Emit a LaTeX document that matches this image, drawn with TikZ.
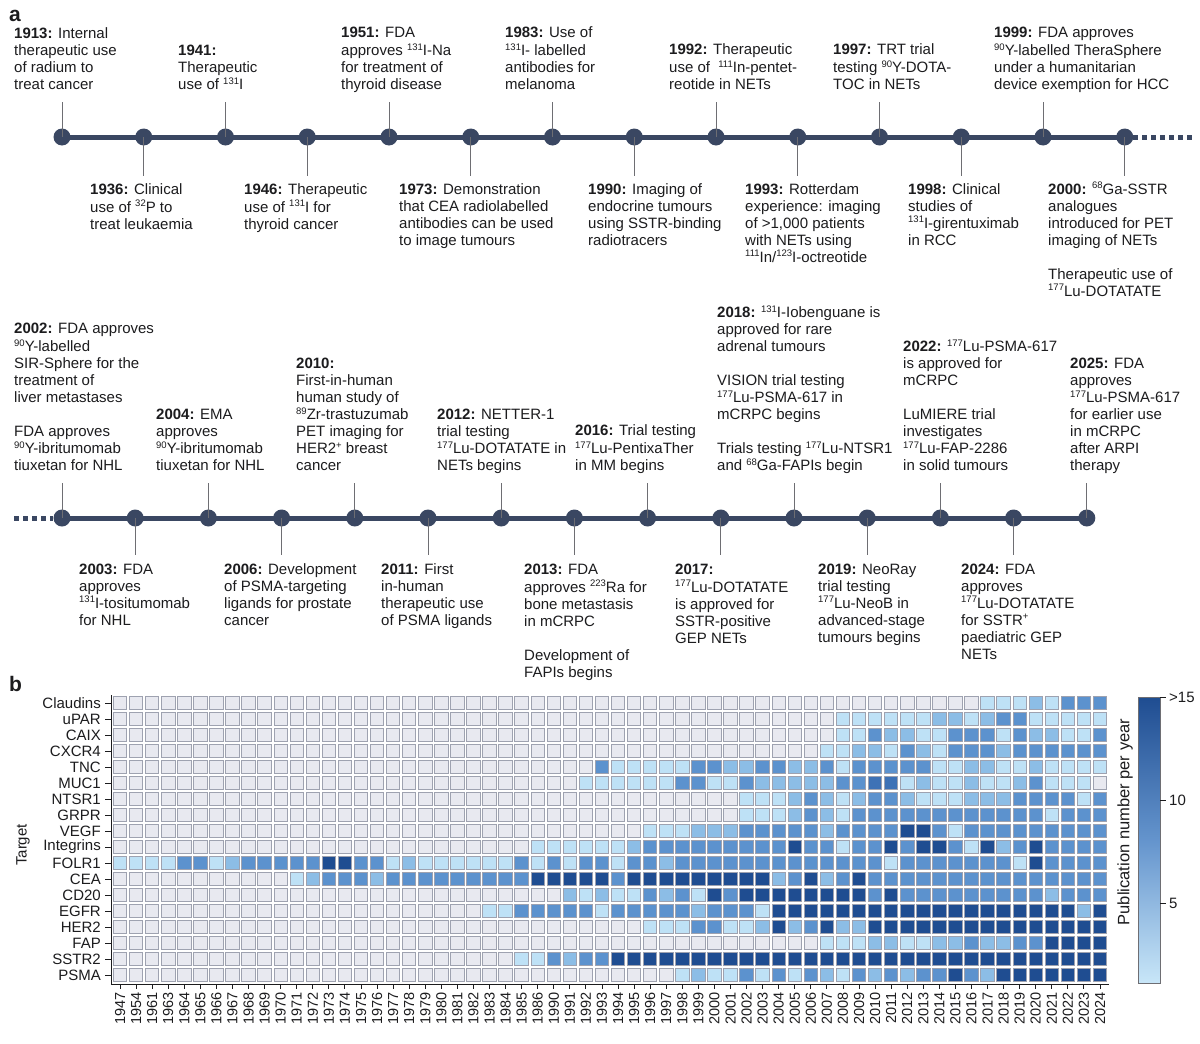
\documentclass[tikz,border=0pt]{standalone}
\usepackage{fontspec}
\setmainfont{Liberation Sans}
\newcommand\iso[1]{\raisebox{0.36em}{\fontsize{9.5}{9.5}\selectfont #1}}
\definecolor{tlc}{RGB}{58,71,98}
\definecolor{txt}{RGB}{28,28,30}
\definecolor{tickc}{RGB}{110,110,115}
\definecolor{hm0}{RGB}{232,233,240}
\definecolor{hm1}{RGB}{190,225,246}
\definecolor{hm2}{RGB}{140,189,230}
\definecolor{hm3}{RGB}{92,146,206}
\definecolor{hm4}{RGB}{62,114,182}
\definecolor{hm5}{RGB}{31,77,145}
\definecolor{cellb}{RGB}{158,162,176}
\definecolor{cbl}{RGB}{200,230,248}
\definecolor{cbm}{RGB}{100,148,205}
\def\hmw{16.065}
\newcount\hmcol
\def\hmrow#1#2{\global\hmcol=0 \def\hmr{#1}\hmloop#2\relax}
\def\hmloop#1{\ifx#1\relax\else\hmcell{#1}\global\advance\hmcol by 1 \expandafter\hmloop\fi}
\def\hmcell#1{\path[hmc, fill=hm#1] ({112+\the\hmcol*\hmw+1.3},{695+\hmr*16+1.3}) rectangle ++({\hmw-2.6},13.4);}
\begin{document}
\begin{tikzpicture}[x=1pt,y=-1pt,
  lab/.style={font=\fontsize{15}{17}\selectfont, align=left, inner sep=0pt, text=txt},
  up/.style={lab, anchor=south west},
  dn/.style={lab, anchor=north west},
  dot/.style={circle, fill=tlc, inner sep=0pt, minimum size=17pt},
  tl/.style={draw=tlc, line width=5pt},
  tlgap/.style={draw=tlc, line width=5pt, dash pattern=on 5pt off 4pt},
  tick/.style={draw=tickc, line width=0.9pt},
  hmc/.style={draw=cellb, line width=0.9pt},
  ax/.style={draw=txt, line width=0.9pt},
  rl/.style={font=\fontsize{15}{17}\selectfont, text=txt, anchor=east, inner sep=0pt},
  yr/.style={font=\fontsize{14.5}{16}\selectfont, text=txt, anchor=east, rotate=90, inner sep=0pt},
  panel/.style={font=\bfseries\fontsize{21}{21}\selectfont, text=txt, inner sep=0pt, anchor=base west}]
\useasboundingbox (0,0) rectangle (1200,1044);
\fill[white] (0,0) rectangle (1200,1044);

% ---------- panel labels
\node[panel] (pa) at (9,21) {a};
\node[panel] (pb) at (9,691) {b};

% ---------- timeline row 1
\foreach \k in {0,...,13} \node[dot] (a\k) at ({62+81.75*\k},137) {};
\draw[tl] (a0.center) -- (a13.center);
\coordinate (aend) at (1192,137);
\draw[tlgap] (a13.east) -- (aend);
\foreach \k in {0,2,...,12} \draw[tick] (a\k.center) -- ++(0,-35);
\foreach \k in {1,3,...,13} \draw[tick] (a\k.center) -- ++(0,39);

\node[up] (t1913) at (14,95) {\strut\textbf{1913:} Internal\\therapeutic use\\of radium to\\treat cancer\strut};
\node[dn] (t1936) at (90,182) {\strut\textbf{1936:} Clinical\\use of \iso{32}P to\\treat leukaemia\strut};
\node[up] (t1941) at (178,95) {\strut\textbf{1941:}\\Therapeutic\\use of \iso{131}I\strut};
\node[dn] (t1946) at (244,182) {\strut\textbf{1946:} Therapeutic\\use of \iso{131}I for\\thyroid cancer\strut};
\node[up] (t1951) at (341,95) {\strut\textbf{1951:} FDA\\approves \iso{131}I-Na\\for treatment of\\thyroid disease\strut};
\node[dn] (t1973) at (399,182) {\strut\textbf{1973:} Demonstration\\that CEA radiolabelled\\antibodies can be used\\to image tumours\strut};
\node[up] (t1983) at (505,95) {\strut\textbf{1983:} Use of\\\iso{131}I- labelled\\antibodies for\\melanoma\strut};
\node[dn] (t1990) at (588,182) {\strut\textbf{1990:} Imaging of\\endocrine tumours\\using SSTR-binding\\radiotracers\strut};
\node[up] (t1992) at (669,95) {\strut\textbf{1992:} Therapeutic\\use of \ \iso{111}In-pentet-\\reotide in NETs\strut};
\node[dn] (t1993) at (745,182) {\strut\textbf{1993:} Rotterdam\\experience: imaging\\of >1,000 patients\\with NETs using\\\iso{111}In/\iso{123}I-octreotide\strut};
\node[up] (t1997) at (833,95) {\strut\textbf{1997:} TRT trial\\testing \iso{90}Y-DOTA-\\TOC in NETs\strut};
\node[dn] (t1998) at (908,182) {\strut\textbf{1998:} Clinical\\studies of\\\iso{131}I-girentuximab\\in RCC\strut};
\node[up] (t1999) at (994,95) {\strut\textbf{1999:} FDA approves\\\iso{90}Y-labelled TheraSphere\\under a humanitarian\\device exemption for HCC\strut};
\node[dn] (t2000) at (1048,182) {\strut\textbf{2000:} \iso{68}Ga-SSTR\\analogues\\introduced for PET\\imaging of NETs\\[17pt]Therapeutic use of\\\iso{177}Lu-DOTATATE\strut};

% ---------- timeline row 2
\foreach \k in {0,...,14} \node[dot] (b\k) at ({62+73.2*\k},518) {};
\draw[tl] (b0.center) -- (b14.center);
\coordinate (bstart) at (14,518);
\draw[tlgap] (bstart) -- (b0.west);
\foreach \k in {0,2,...,14} \draw[tick] (b\k.center) -- ++(0,-35);
\foreach \k in {1,3,...,13} \draw[tick] (b\k.center) -- ++(0,37);

\node[up] (t2002) at (14,476) {\strut\textbf{2002:} FDA approves\\\iso{90}Y-labelled\\SIR-Sphere for the\\treatment of\\liver metastases\\[17pt]FDA approves\\\iso{90}Y-ibritumomab\\tiuxetan for NHL\strut};
\node[dn] (t2003) at (79,562) {\strut\textbf{2003:} FDA\\approves\\\iso{131}I-tositumomab\\for NHL\strut};
\node[up] (t2004) at (156,476) {\strut\textbf{2004:} EMA\\approves\\\iso{90}Y-ibritumomab\\tiuxetan for NHL\strut};
\node[dn] (t2006) at (224,562) {\strut\textbf{2006:} Development\\of PSMA-targeting\\ligands for prostate\\cancer\strut};
\node[up] (t2010) at (296,476) {\strut\textbf{2010:}\\First-in-human\\human study of\\\iso{89}Zr-trastuzumab\\PET imaging for\\HER2\iso{+} breast\\cancer\strut};
\node[dn] (t2011) at (381,562) {\strut\textbf{2011:} First\\in-human\\therapeutic use\\of PSMA ligands\strut};
\node[up] (t2012) at (437,476) {\strut\textbf{2012:} NETTER-1\\trial testing\\\iso{177}Lu-DOTATATE in\\NETs begins\strut};
\node[dn] (t2013) at (524,562) {\strut\textbf{2013:} FDA\\approves \iso{223}Ra for\\bone metastasis\\in mCRPC\\[17pt]Development of\\FAPIs begins\strut};
\node[up] (t2016) at (575,476) {\strut\textbf{2016:} Trial testing\\\iso{177}Lu-PentixaTher\\in MM begins\strut};
\node[dn] (t2017) at (675,562) {\strut\textbf{2017:}\\\iso{177}Lu-DOTATATE\\is approved for\\SSTR-positive\\GEP NETs\strut};
\node[up] (t2018) at (717,476) {\strut\textbf{2018:} \iso{131}I-Iobenguane is\\approved for rare\\adrenal tumours\\[17pt]VISION trial testing\\\iso{177}Lu-PSMA-617 in\\mCRPC begins\\[17pt]Trials testing \iso{177}Lu-NTSR1\\and \iso{68}Ga-FAPIs begin\strut};
\node[dn] (t2019) at (818,562) {\strut\textbf{2019:} NeoRay\\trial testing\\\iso{177}Lu-NeoB in\\advanced-stage\\tumours begins\strut};
\node[up] (t2022) at (903,476) {\strut\textbf{2022:} \iso{177}Lu-PSMA-617\\is approved for\\mCRPC\\[17pt]LuMIERE trial\\investigates\\\iso{177}Lu-FAP-2286\\in solid tumours\strut};
\node[dn] (t2024) at (961,562) {\strut\textbf{2024:} FDA\\approves\\\iso{177}Lu-DOTATATE\\for SSTR\iso{+}\\paediatric GEP\\NETs\strut};
\node[up] (t2025) at (1070,476) {\strut\textbf{2025:} FDA\\approves\\\iso{177}Lu-PSMA-617\\for earlier use\\in mCRPC\\after ARPI\\therapy\strut};

% ---------- heatmap
\hmrow{0}{0000000000 0000000000 0000000000 0000000000 0000000000 0000111213 33}
\hmrow{1}{0000000000 0000000000 0000000000 0000000000 0000011111 1221233111 11}
\hmrow{2}{0000000000 0000000000 0000000000 0000000000 0000011322 1133313221 13}
\hmrow{3}{0000000000 0000000000 0000000000 0000000000 0000112213 2133323333 33}
\hmrow{4}{0000000000 0000000000 0000000000 3111113322 3322313333 3112211211 11}
\hmrow{5}{0000000000 0000000000 0000000001 1111133113 2222233441 2112112311 10}
\hmrow{6}{0000000000 0000000000 0000000000 0000000001 1123212332 1112223333 13}
\hmrow{7}{0000000000 0000000000 0000000000 0000000001 1123213333 3333333313 33}
\hmrow{8}{0000000000 0000000000 0000000000 0001112223 3333233335 5313333333 33}
\hmrow{9}{0000000000 0000000000 0000001111 1123333333 3353313353 5531523533 33}
\hmrow{10}{1111331233 3335533121 1111131313 3133233333 3333333313 3333331533 33}
\hmrow{11}{0000000000 0123332333 3333335555 5355555555 5235235333 3333333333 33}
\hmrow{12}{0000000000 0000000000 0000000021 2113231535 5555555353 3333333323 33}
\hmrow{13}{0000000000 0000000000 0001133333 1333332333 1555555555 5555555555 25}
\hmrow{14}{0000000000 0000000000 0000000000 0001113311 2523522555 5555555555 55}
\hmrow{15}{0000000000 0000000000 0000000000 0000000000 0000111221 1223223355 55}
\hmrow{16}{0000000000 0000000000 0000011323 3555555555 5555555555 5555555555 55}
\hmrow{17}{0000000000 0000000000 0000000000 0000012113 1313213232 3353255555 55}

\draw[ax] (111,695) -- (111,984) -- (1109,984);
\foreach \n [count=\r from 0] in {Claudins,uPAR,CAIX,CXCR4,TNC,MUC1,NTSR1,GRPR,VEGF,Integrins,FOLR1,CEA,CD20,EGFR,HER2,FAP,SSTR2,PSMA} {
  \node[rl] (row\r) at (101,{703+16*\r}) {\n};
  \draw[ax] (105,{703+16*\r}) -- (111,{703+16*\r});
}
\foreach \y [count=\i from 0] in {1947,1954,1961,1963,1964,1965,1966,1967,1968,1969,1970,1971,1972,1973,1974,1975,1976,1977,1978,1979,1980,1981,1982,1983,1984,1985,1986,1990,1991,1992,1993,1994,1995,1996,1997,1998,1999,2000,2001,2002,2003,2004,2005,2006,2007,2008,2009,2010,2011,2012,2013,2014,2015,2016,2017,2018,2019,2020,2021,2022,2023,2024} {
  \draw[ax] ({112+(\i+0.5)*\hmw},984) -- ++(0,5);
  \node[yr] (yr\i) at ({112+(\i+0.5)*\hmw},992) {\y};
}
\node[rl, anchor=south, rotate=90] (target) at (30,845) {Target};

% ---------- colour bar
\shade[top color=hm5, bottom color=cbl, middle color=cbm] (1138,697) rectangle (1160,983);
\draw[draw=tickc, line width=0.8pt] (1138,697) rectangle (1160,983);
\foreach \v/\yy in {>15/697,10/800,5/903} {
  \draw[ax] (1160,\yy) -- (1166,\yy);
  \node[rl, anchor=west] at (1169,\yy) {\v};
}
\node[font=\fontsize{16.5}{18}\selectfont, text=txt, rotate=90, inner sep=0pt] (cbt) at (1125,822) {Publication number per year};
\end{tikzpicture}
\end{document}
